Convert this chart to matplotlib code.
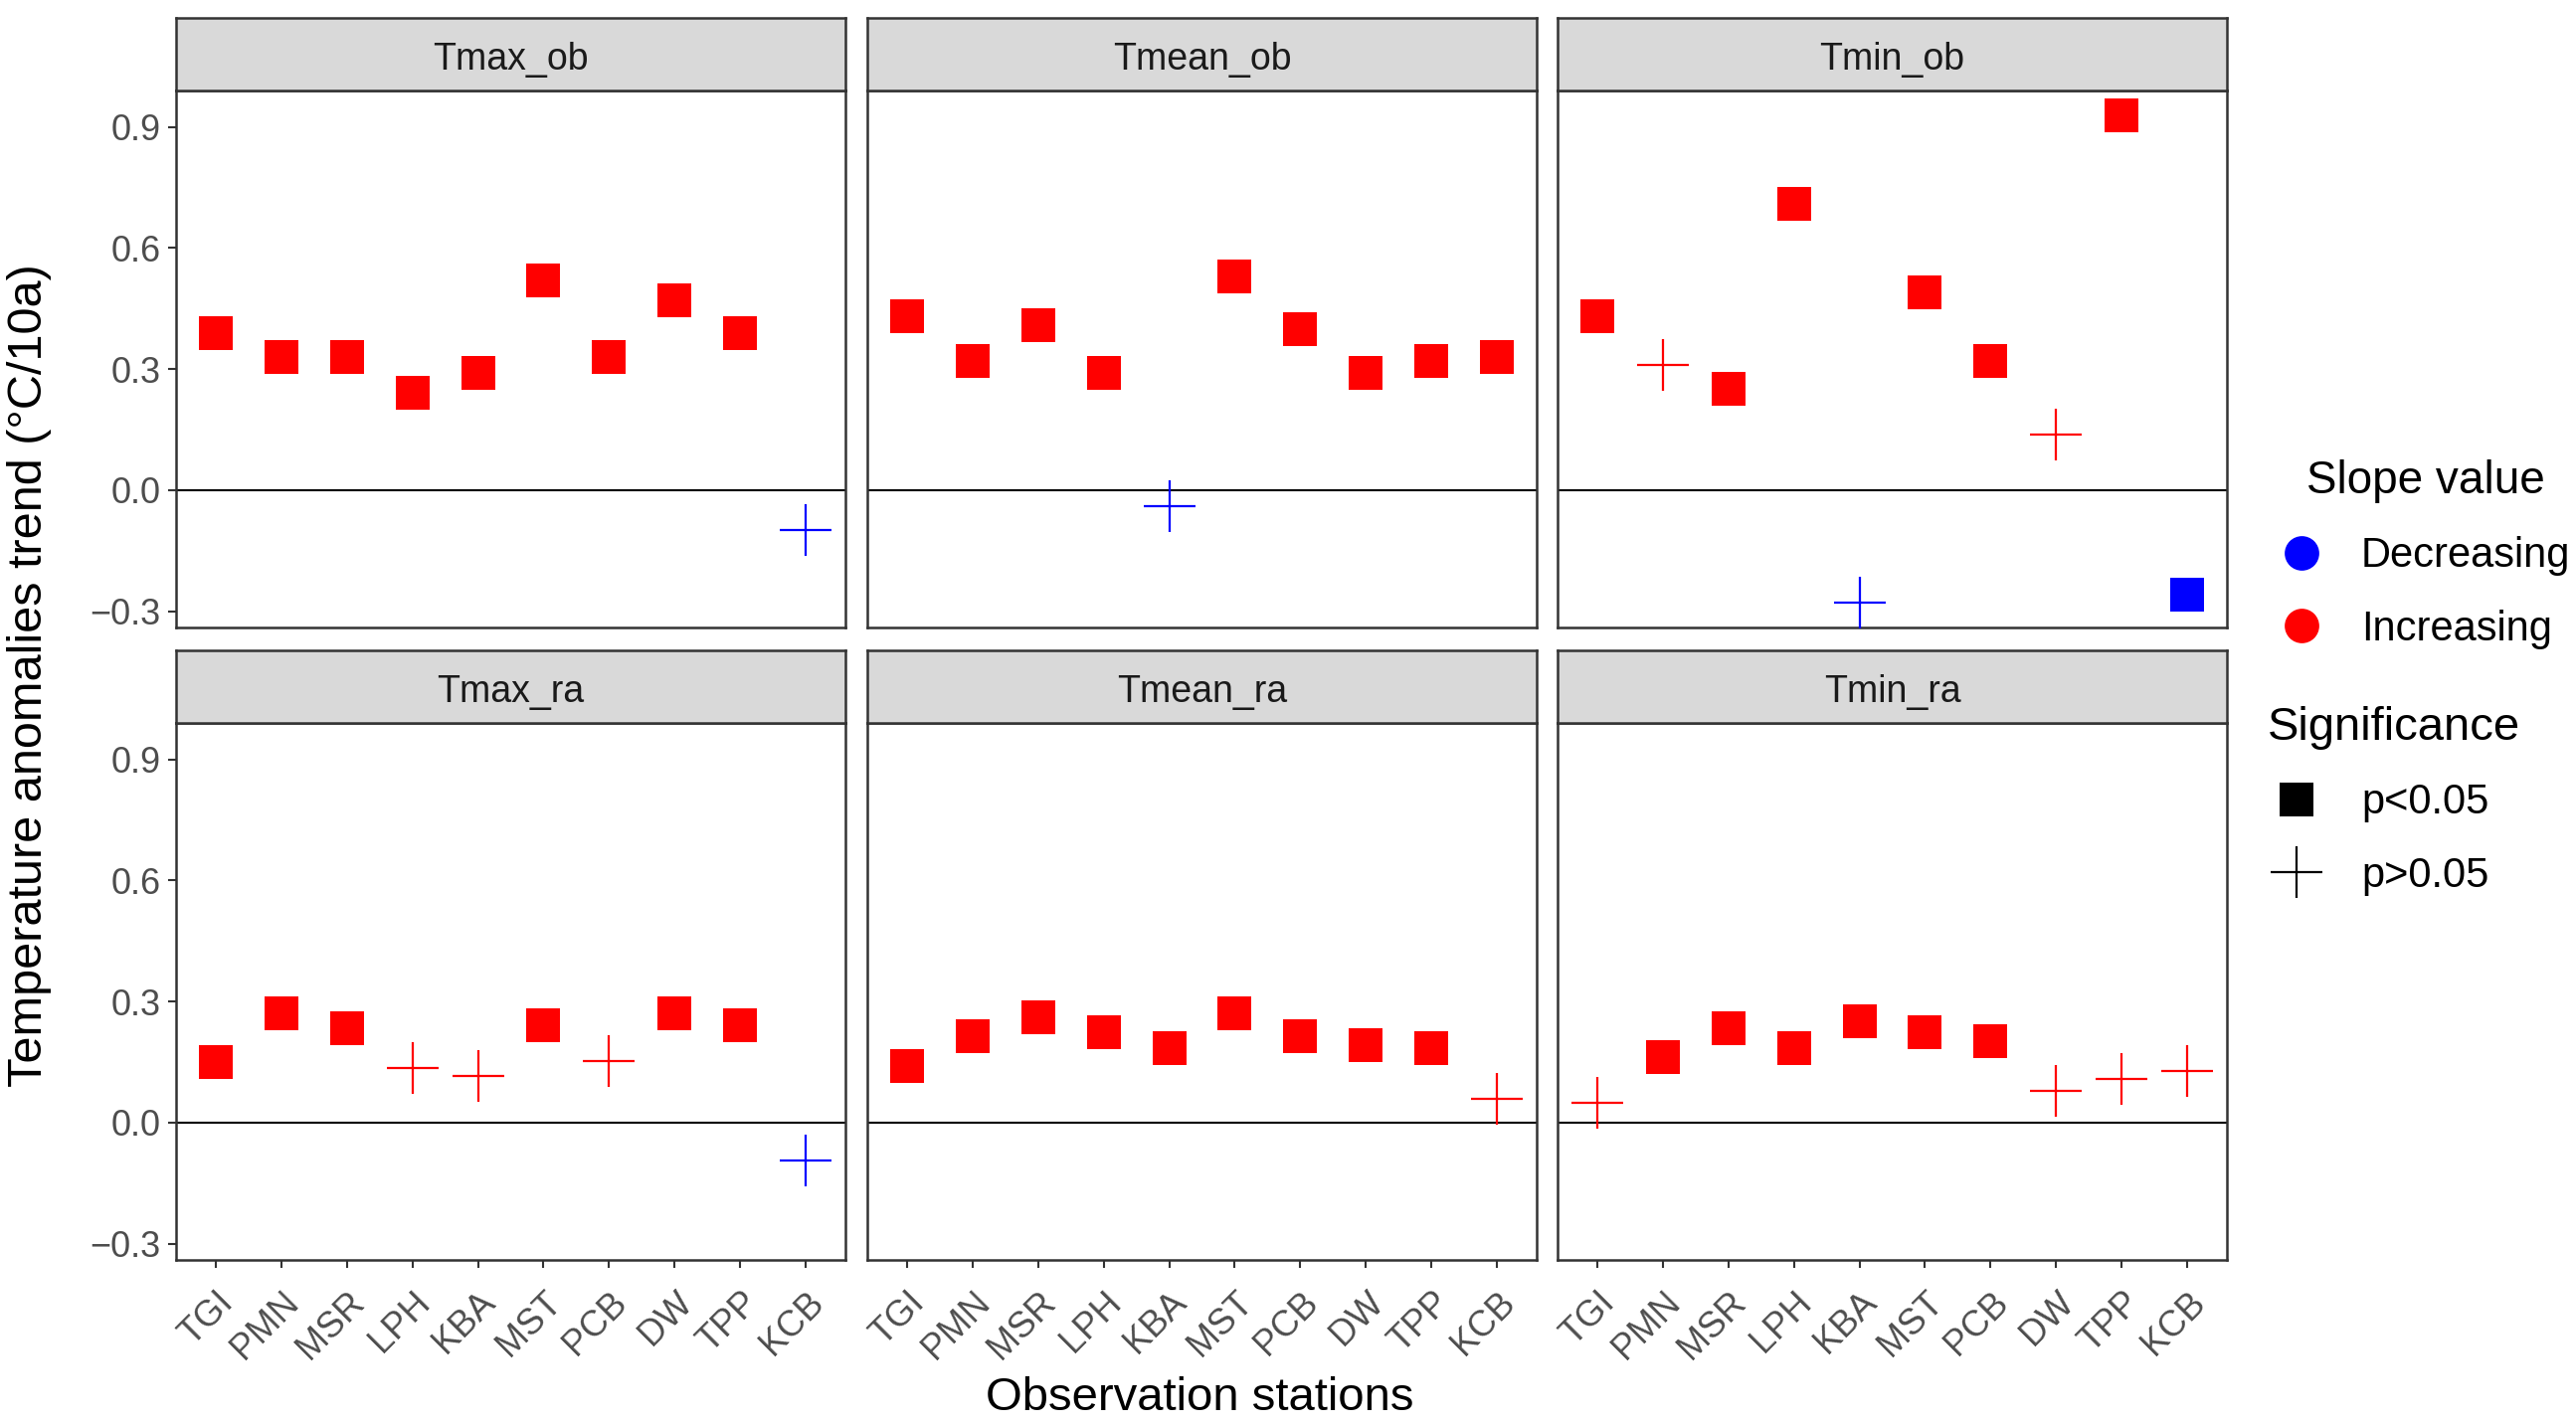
import matplotlib.pyplot as plt
from matplotlib.lines import Line2D
import numpy as np

plt.rcParams['font.family'] = ['Liberation Sans', 'DejaVu Sans']

stations = ['TGI', 'PMN', 'MSR', 'LPH', 'KBA', 'MST', 'PCB', 'DW', 'TPP', 'KCB']
panel_names = ['Tmax_ob', 'Tmean_ob', 'Tmin_ob', 'Tmax_ra', 'Tmean_ra', 'Tmin_ra']

# slope values (°C/10a)
tmax_ob = [0.39, 0.33, 0.33, 0.24, 0.29, 0.52, 0.33, 0.47, 0.39, -0.10]
tmean_ob = [0.43, 0.32, 0.41, 0.29, -0.04, 0.53, 0.40, 0.29, 0.32, 0.33]
tmin_ob = [0.43, 0.31, 0.25, 0.71, -0.28, 0.49, 0.32, 0.137, 0.93, -0.26]
tmax_ra = [0.151, 0.27, 0.234, 0.136, 0.115, 0.241, 0.152, 0.27, 0.241, -0.094]
tmean_ra = [0.14, 0.213, 0.262, 0.223, 0.184, 0.27, 0.213, 0.192, 0.184, 0.058]
tmin_ra = [0.05, 0.162, 0.234, 0.184, 0.252, 0.223, 0.201, 0.079, 0.108, 0.129]

# 1 -> p<0.05, 0 -> p>0.05
sig_tmax_ob = [1, 1, 1, 1, 1, 1, 1, 1, 1, 0]
sig_tmean_ob = [1, 1, 1, 1, 0, 1, 1, 1, 1, 1]
sig_tmin_ob = [1, 0, 1, 1, 0, 1, 1, 0, 1, 1]
sig_tmax_ra = [1, 1, 1, 0, 0, 1, 0, 1, 1, 0]
sig_tmean_ra = [1, 1, 1, 1, 1, 1, 1, 1, 1, 0]
sig_tmin_ra = [0, 1, 1, 1, 1, 1, 1, 0, 0, 0]

values = [tmax_ob, tmean_ob, tmin_ob, tmax_ra, tmean_ra, tmin_ra]
signif = [sig_tmax_ob, sig_tmean_ob, sig_tmin_ob, sig_tmax_ra, sig_tmean_ra, sig_tmin_ra]

RED = '#FF0000'
BLUE = '#0000FF'
BORDER = '#333333'

W, H = 2590, 1434
fig = plt.figure(figsize=(W / 100, H / 100), dpi=100)

col_x = [177, 872, 1566]
col_w = 673
row_top = [91, 727]      # top of plotting area (px)
plot_h = 540
strip_h = 73

allv = np.concatenate([np.array(v) for v in values])
lo, hi = allv.min(), allv.max()
pad = (hi - lo) * 0.05
ylim = (lo - pad, hi + pad)
x = np.arange(1, len(stations) + 1)

for i, name in enumerate(panel_names):
    r, c = divmod(i, 3)
    left = col_x[c] / W
    bottom = 1 - (row_top[r] + plot_h) / H
    ax = fig.add_axes([left, bottom, col_w / W, plot_h / H])
    sax = fig.add_axes([left, 1 - row_top[r] / H, col_w / W, strip_h / H])

    v = np.array(values[i])
    s = np.array(signif[i])
    cols = np.where(v > 0, RED, BLUE)

    ax.axhline(0, color='black', lw=1.5, zorder=1)
    for k in range(len(v)):
        if s[k] == 1:
            ax.plot(x[k], v[k], marker='s', ms=24, mew=0, color=cols[k],
                    linestyle='none', zorder=3)
        else:
            ax.plot(x[k], v[k], marker='+', ms=37, mew=1.6, color=cols[k],
                    linestyle='none', zorder=3)

    ax.set_xlim(0.4, len(stations) + 0.6)
    ax.set_ylim(ylim)
    ax.set_yticks([-0.3, 0.0, 0.3, 0.6, 0.9])
    ax.set_yticklabels(['\u22120.3', '0.0', '0.3', '0.6', '0.9'])
    ax.set_xticks(x)
    ax.set_xticklabels(stations)
    ax.tick_params(colors=BORDER, labelcolor='#4D4D4D', labelsize=26,
                   length=6, width=1.5, pad=5)
    for sp in ax.spines.values():
        sp.set_color(BORDER)
        sp.set_linewidth(1.8)

    if c != 0:
        ax.tick_params(axis='y', left=False, labelleft=False)
    if r == 0:
        ax.tick_params(axis='x', bottom=False, labelbottom=False)
    else:
        for lab in ax.get_xticklabels():
            lab.set_rotation(45)
            lab.set_ha('right')
            lab.set_va('top')
            lab.set_rotation_mode('anchor')
        ax.tick_params(axis='x', pad=12)

    sax.set_facecolor('#D9D9D9')
    sax.set_xticks([])
    sax.set_yticks([])
    for sp in sax.spines.values():
        sp.set_color(BORDER)
        sp.set_linewidth(1.8)
    sax.text(0.5, 0.43, name, ha='center', va='center', fontsize=27,
             color='#1A1A1A', transform=sax.transAxes)

fig.text(30 / W, 1 - 679 / H, 'Temperature anomalies trend (°C/10a)',
         rotation=90, ha='center', va='center', fontsize=35)
fig.text(1206 / W, 1 - 1406 / H, 'Observation stations',
         ha='center', va='center', fontsize=34)

slope_handles = [
    Line2D([], [], marker='o', ms=25, mew=0, color=BLUE, linestyle='none'),
    Line2D([], [], marker='o', ms=25, mew=0, color=RED, linestyle='none'),
]
leg1 = fig.legend(slope_handles, ['Decreasing', 'Increasing'], title='Slope value',
                  loc='upper left', bbox_to_anchor=(2293 / W, 1 - 462 / H),
                  frameon=False, fontsize=30, title_fontsize=33,
                  handlelength=1.0, handletextpad=0.94, labelspacing=0.8,
                  borderpad=0, borderaxespad=0, alignment='center')

sig_handles = [
    Line2D([], [], marker='s', ms=25, mew=0, color='black', linestyle='none'),
    Line2D([], [], marker='+', ms=37, mew=1.6, color='black', linestyle='none'),
]
leg2 = fig.legend(sig_handles, ['p<0.05', 'p>0.05'], title='Significance',
                  loc='upper left', bbox_to_anchor=(2280 / W, 1 - 710 / H),
                  frameon=False, fontsize=30, title_fontsize=34,
                  handlelength=1.4, handletextpad=0.86, labelspacing=0.8,
                  borderpad=0, borderaxespad=0, alignment='left')

fig.savefig('out.png', dpi=100)
